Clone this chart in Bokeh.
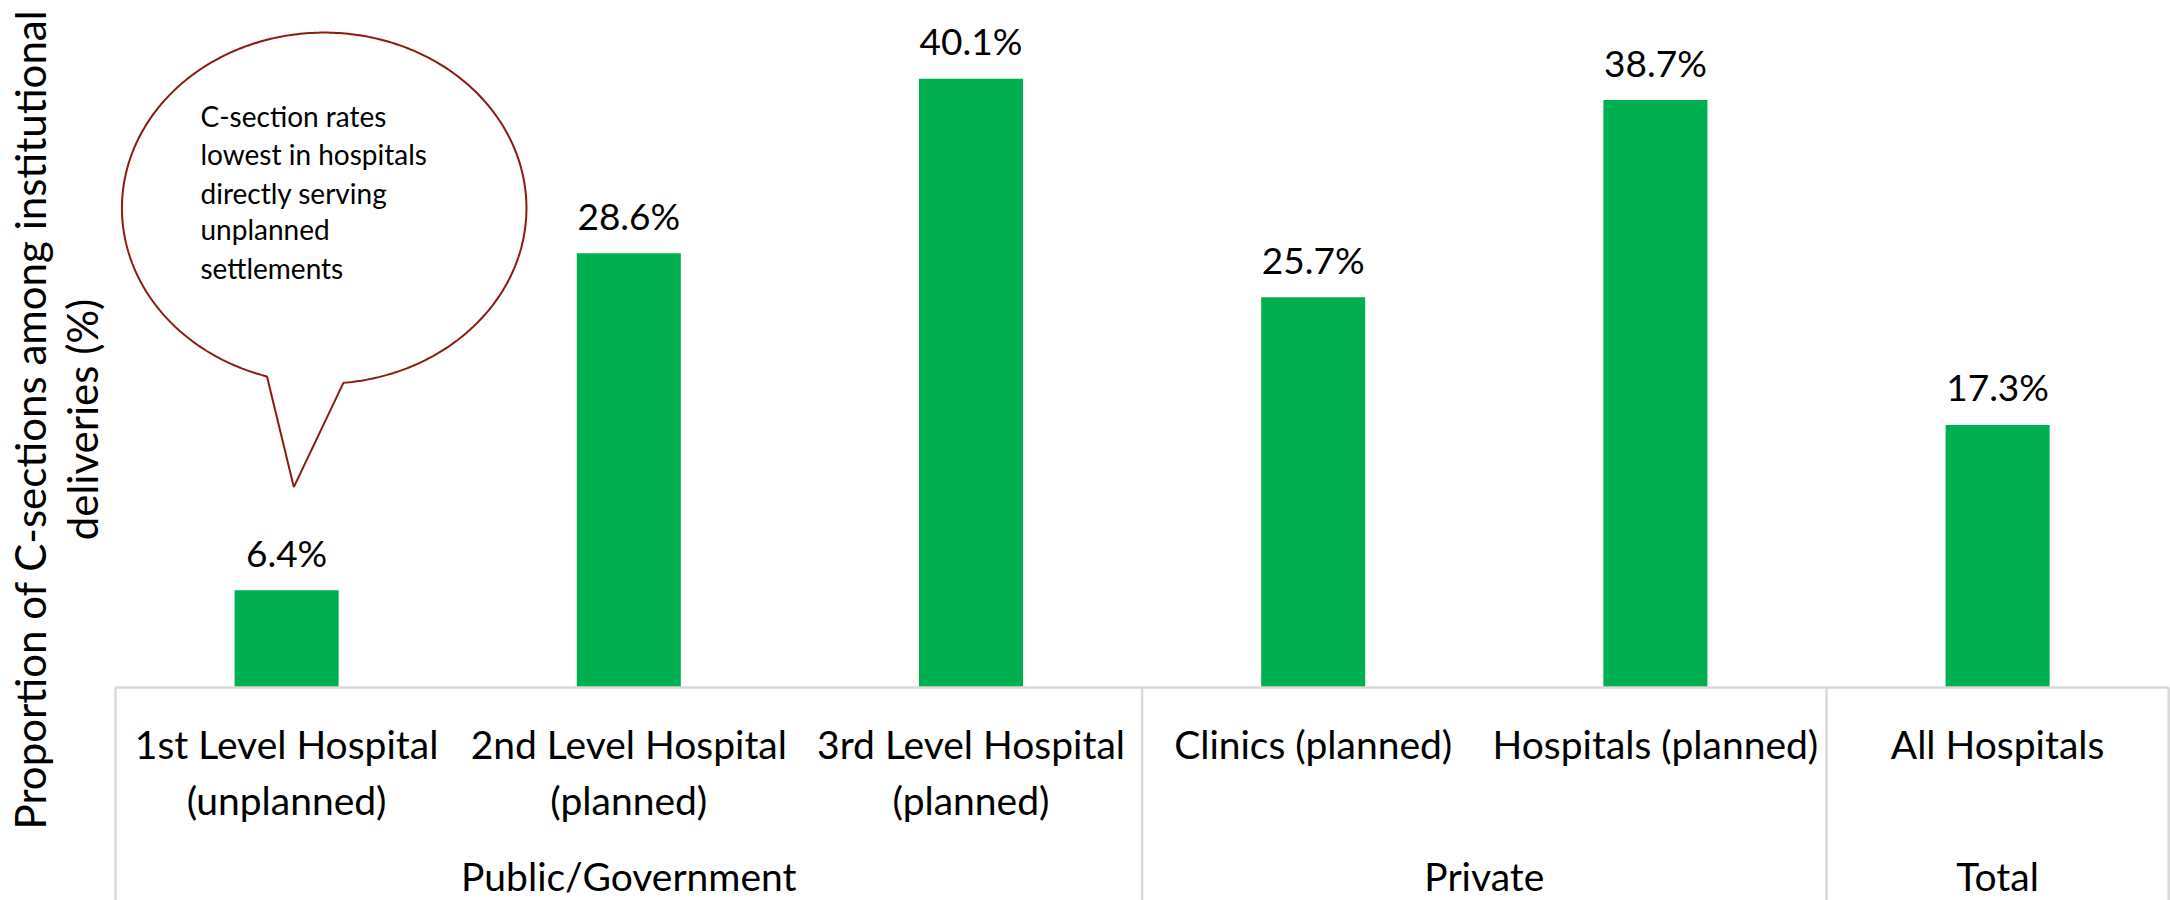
import numpy as np
from bokeh.plotting import figure
from bokeh.models import Range1d, ColumnDataSource
from bokeh.core.properties import value
from bokeh.embed import file_html
from bokeh.resources import INLINE

# ---------------- data ----------------
cat_line1 = ["1st Level Hospital", "2nd Level Hospital", "3rd Level Hospital",
             "Clinics (planned)", "Hospitals (planned)", "All Hospitals"]
cat_line2 = ["(unplanned)", "(planned)", "(planned)", "", "", ""]
groups = ["Public/Government", "Private", "Total"]
group_sizes = [3, 2, 1]
values = [6.4, 28.6, 40.1, 25.7, 38.7, 17.3]
y_title = ["Proportion of C-sections among institutional", "deliveries (%)"]
callout_lines = ["C-section rates", "lowest in hospitals", "directly serving",
                 "unplanned", "settlements"]

# ---------------- layout (pixel geometry of the canvas) ----------------
W, H = 2170, 900
X0_PX, CAT_PX = 115.0, 342.2      # left edge of category axis, width of one category
BASE_PX, PX_PER = 687.0, 15.18    # baseline pixel row, pixels per percentage point

def ux(px):
    return (px - X0_PX) / CAT_PX

def uy(py):
    return (BASE_PX - py) / PX_PER

FONT = value("Lato")
GREEN = "#00B050"
GRID = "#D9D9D9"
RED = "#8B1A10"

p = figure(width=W, height=H, output_backend="svg", toolbar_location=None,
           x_range=Range1d(ux(0), ux(W)), y_range=Range1d(uy(H), uy(0)),
           min_border=0, outline_line_color=None, background_fill_color="white",
           border_fill_color="white")
p.xaxis.visible = False
p.yaxis.visible = False
p.xgrid.visible = False
p.ygrid.visible = False

n = len(values)
xc = [i + 0.5 for i in range(n)]
src = ColumnDataSource(dict(x=xc, top=values,
                            lab=[f"{v:.1f}%" for v in values],
                            l1=cat_line1, l2=cat_line2))

# bars
p.vbar(x="x", top="top", bottom=0, width=0.304, source=src,
       fill_color=GREEN, line_color=None)

# value labels
p.text(x="x", y="top", text="lab", source=src, text_align="center",
       text_baseline="middle", y_offset=-38, text_font=FONT,
       text_font_size="37px", text_color="black")

# axis frame: baseline + separators
edges = [0]
for g in group_sizes:
    edges.append(edges[-1] + g)
p.segment(x0=[0], y0=[0], x1=[n], y1=[0], line_color=GRID, line_width=2.5)
p.segment(x0=edges, y0=[0] * len(edges), x1=edges, y1=[uy(H + 5)] * len(edges),
          line_color=GRID, line_width=2.5)

# category labels
p.text(x="x", y=uy(743), text="l1", source=src, text_align="center",
       text_baseline="middle", text_font=FONT, text_font_size="39px",
       text_color="black")
p.text(x="x", y=uy(799), text="l2", source=src, text_align="center",
       text_baseline="middle", text_font=FONT, text_font_size="39px",
       text_color="black")

# group labels
gx = [(edges[i] + edges[i + 1]) / 2 for i in range(len(groups))]
p.text(x=gx, y=[uy(875)] * len(groups), text=groups, text_align="center",
       text_baseline="middle", text_font=FONT, text_font_size="39px",
       text_color="black")

# y-axis title (two rotated lines)
p.text(x=[ux(29), ux(81)], y=[uy(419), uy(419)], text=y_title, angle=np.pi / 2,
       text_align="center", text_baseline="middle", text_font=FONT,
       text_font_size="42px", text_color="black")

# callout bubble
cx, cy, a, b = 323.7, 207.6, 202.25, 175.5
t1 = np.arccos((266.5 - cx) / a)
t2 = np.arccos((342.9 - cx) / a)
th = np.linspace(t1, t2 + 2 * np.pi, 400)
bx = list(cx + a * np.cos(th)) + [293.3]
by = list(cy + b * np.sin(th)) + [486.6]
p.patch([ux(v) for v in bx], [uy(v) for v in by], fill_color="white",
        line_color=RED, line_width=2)

ly = [115.2, 153.1, 192.0, 228.6, 267.9]
p.text(x=[ux(200)] * len(callout_lines), y=[uy(v) for v in ly], text=callout_lines,
       text_align="left", text_baseline="middle", text_font=FONT,
       text_font_size="28px", text_color="black")

open("out.html", "w").write(file_html(p, INLINE))
